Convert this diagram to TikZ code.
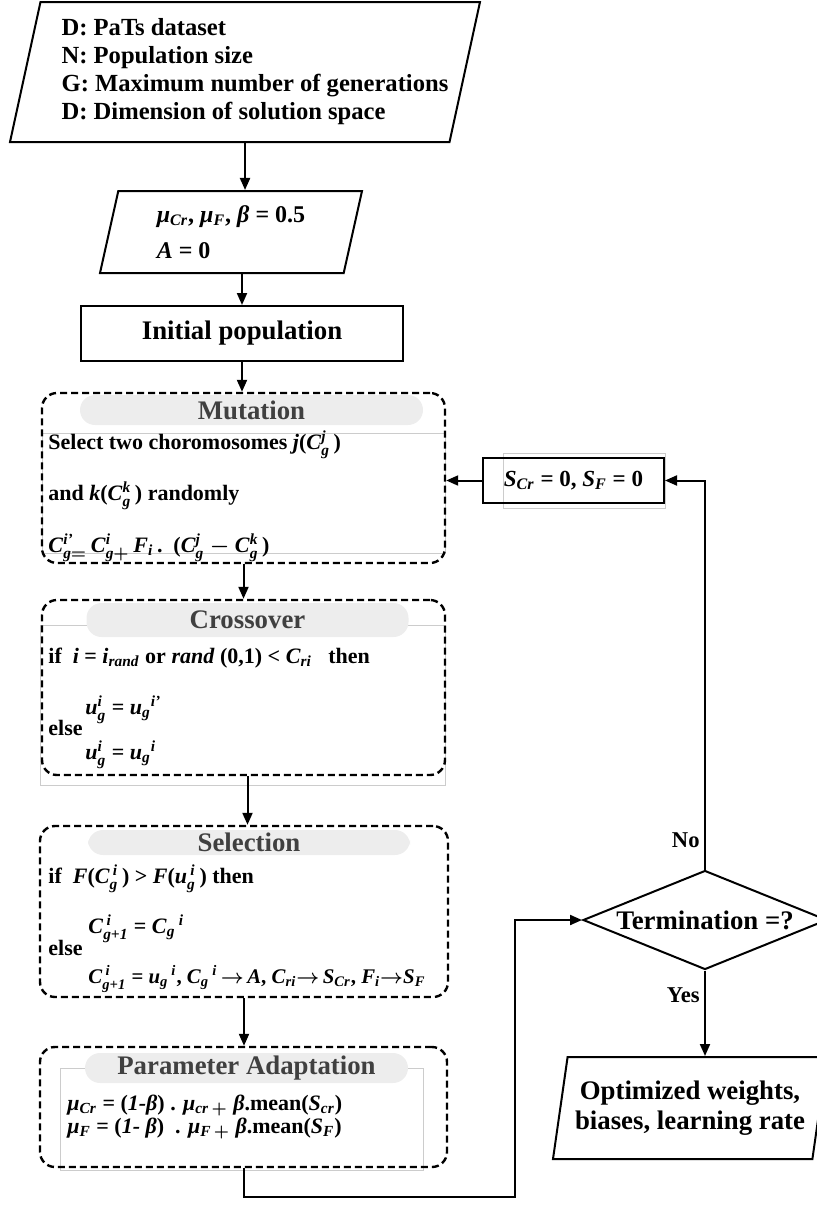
\documentclass[tikz,border=0pt]{standalone}
\usepackage{fontspec}
\setmainfont{Liberation Serif}
\usepackage{amsmath}
\usetikzlibrary{shapes.geometric,arrows.meta}

\newcommand{\mi}[1]{\textbf{\textit{#1}}}

\tikzset{
  flow/.style={-{Triangle[length=6pt,width=5pt]}, line width=1pt},
  inout/.style={trapezium, trapezium stretches body, draw, line width=1pt, inner sep=0pt},
  stage/.style={draw, rounded corners=7.5pt, line width=1.2pt, dash pattern=on 3.5pt off 2pt},
  head/.style={fill=black!7, rounded corners=7.5pt, inner sep=0pt, text=black!75,
    font=\fontsize{13.4}{15}\selectfont\bfseries},
  ghost/.style={draw=black!20, line width=0.4pt},
  body/.style={anchor=base west, inner sep=0pt, font=\fontsize{11}{13}\selectfont\bfseries\boldmath},
  lbl/.style={anchor=east, inner sep=0pt, font=\fontsize{11.3}{13}\selectfont\bfseries},
}

\begin{document}
\begin{tikzpicture}[x=0.5pt, y=-0.5pt]
  \useasboundingbox (0,0) rectangle (817,1205);

  % inputs
  \node[inout, trapezium left angle=74, trapezium right angle=106, minimum width=235pt, minimum height=70pt,
    align=left, font=\fontsize{12.3}{14}\selectfont\bfseries] (inp) at (245,72)
    {\hspace*{10pt}D: PaTs dataset\\\hspace*{10pt}N: Population size\\\hspace*{10pt}G: Maximum number of generations\\\hspace*{10pt}D: Dimension of solution space};
  \node[inout, trapezium left angle=71, trapezium right angle=109, minimum width=131pt, minimum height=41pt,
    align=left, font=\fontsize{12}{14}\selectfont\bfseries\boldmath] (prm) at (231,232)
    {\mi{μ}$_{\mi{Cr}}$, \mi{μ}$_{\mi{F}}$, \mi{β} = 0.5\\[4pt]\mi{A} = 0};
  \node[draw, line width=1pt, minimum width=161pt, minimum height=27.5pt,
    font=\fontsize{13.4}{15}\selectfont\bfseries] (init) at (242,333.5) {Initial population};

  % mutation
  \draw[ghost] (42,433) rectangle (445,553);
  \node[head, minimum width=171.5pt, minimum height=15pt] (muth) at (251.5,410) {Mutation};
  \node[stage, minimum width=201.5pt, minimum height=85pt] (mut) at (243.5,478) {};
  \node[body] (mut1) at (48,449) {Select two choromosomes \mi{j}(\mi{C}$^{\mi{j}}_{\mi{g}}$\,)};
  \node[body] (mut2) at (48,500) {and \mi{k}(\mi{C}$^{\mi{k}}_{\mi{g}}$\,) randomly};
  \node[body] (mut3) at (48,552) {\mi{C}$^{\mi{i'}}_{\mi{g}=}$\,\mi{C}$^{\mi{i}}_{\mi{g}+}$\,\mi{F}$_{\mi{i}}$\,.\ \ (\mi{C}$^{\mi{j}}_{\mi{g}}$ $-$ \mi{C}$^{\mi{k}}_{\mi{g}}$\,)};

  % crossover
  \draw[ghost] (40,625) rectangle (445,785);
  \node[head, minimum width=161pt, minimum height=17pt] (croh) at (247.5,620) {Crossover};
  \node[stage, minimum width=201.5pt, minimum height=87.5pt] (cro) at (243.5,687.5) {};
  \node[body] (cro1) at (48,663) {if\ \ \mi{i} = \mi{i}$_{\mi{rand}}$ or \mi{rand} (0,1) < \mi{C}$_{\mi{ri}}$\ \ \ then};
  \node[body] (cro2) at (85,714) {\mi{u}$^{\mi{i}}_{\mi{g}}$ = \mi{u}$_{\mi{g}}{}^{\mi{i'}}$};
  \node[body] (cro3) at (48,735) {else};
  \node[body] (cro4) at (85,759) {\mi{u}$^{\mi{i}}_{\mi{g}}$ = \mi{u}$_{\mi{g}}{}^{\mi{i}}$};

  % selection
  \node[head, minimum width=161pt, minimum height=12.5pt] (selh) at (249,842.5) {Selection};
  \node[stage, minimum width=204pt, minimum height=85.5pt] (sel) at (244,911.5) {};
  \node[body] (sel1) at (48,883) {if\ \ \mi{F}(\mi{C}$^{\,\mi{i}}_{\mi{g}}$\,) > \mi{F}(\mi{u}$^{\,\mi{i}}_{\mi{g}}$\,) then};
  \node[body] (sel2) at (88,933) {\mi{C}$^{\,\mi{i}}_{\mi{g+1}}$ = \mi{C}$_{\mi{g}}{}^{\,\mi{i}}$};
  \node[body] (sel3) at (48,955) {else};
  \node[body, font=\fontsize{10.4}{13}\selectfont\bfseries\boldmath] (sel4) at (88,983)
    {\mi{C}$^{\,\mi{i}}_{\mi{g+1}}$ = \mi{u}$_{\mi{g}}{}^{\,\mi{i}}$,\ \mi{C}$_{\mi{g}}{}^{\,\mi{i}}$\,$\rightarrow$\,\mi{A}, \mi{C}$_{\mi{ri}}$$\rightarrow$\,\mi{S}$_{\mi{Cr}}$,\ \mi{F}$_{\mi{i}}$$\rightarrow$\mi{S}$_{\mi{F}}$};

  % parameter adaptation
  \draw[ghost] (60,1068) rectangle (423,1170);
  \node[head, minimum width=161.5pt, minimum height=15pt] (parh) at (246.5,1068) {Parameter Adaptation};
  \node[stage, minimum width=203.5pt, minimum height=60pt] (par) at (243.5,1107) {};
  \node[body] (par1) at (67,1110) {\mi{μ}$_{\mi{Cr}}$ = (\mi{1-β}) . \mi{μ}$_{\mi{cr}\,+}$ \mi{β}.mean(\mi{S}$_{\mi{cr}}$)};
  \node[body] (par2) at (67,1133) {\mi{μ}$_{\mi{F}}$ = (\mi{1- β})\ \ . \mi{μ}$_{\mi{F}\,+}$ \mi{β}.mean(\mi{S}$_{\mi{F}}$)};

  % right column
  \draw[ghost] (503,453) rectangle (665,508);
  \node[draw, line width=1pt, minimum width=90.5pt, minimum height=22.5pt,
    font=\fontsize{11.5}{13}\selectfont\bfseries] (reset) at (573.5,480.5) {\mi{S}$_{\mi{Cr}}$ = 0, \mi{S}$_{\mi{F}}$ = 0};
  \node[diamond, draw, line width=1pt, minimum width=122pt, minimum height=49.5pt, inner sep=0pt, aspect=2.5,
    font=\fontsize{13.4}{15}\selectfont\bfseries] (term) at (705,920) {Termination =?};
  \node[inout, trapezium left angle=75, trapezium right angle=105, minimum width=137pt, minimum height=51pt,
    align=center, font=\fontsize{13.4}{15}\selectfont\bfseries] (out) at (690,1108)
    {Optimized weights,\\biases, learning rate};
  \node[lbl] (no) at (700,840) {No};
  \node[lbl] (yes) at (700,995) {Yes};
  \coordinate (bend) at (515,1197);

  % connectors
  \draw[flow] (inp.south) -- (inp.south |- prm.north);
  \draw[flow] (init.north |- prm.south) -- (init.north);
  \draw[flow] (init.south) -- (init.south |- mut.north);
  \draw[flow] (mut.south) -- (mut.south |- cro.north);
  \draw[flow] ([xshift=2pt]cro.south) -- ([xshift=2pt]cro.south |- sel.north);
  \draw[flow] (sel.south) -- (sel.south |- par.north);
  \draw[flow] (par.south) |- (bend) |- (term.west);
  \draw[flow] (term.north) |- (reset.east);
  \draw[flow] (reset.west) -- (reset.west -| mut.east);
  \draw[flow] (term.south) -- (term.south |- out.north);
\end{tikzpicture}
\end{document}
